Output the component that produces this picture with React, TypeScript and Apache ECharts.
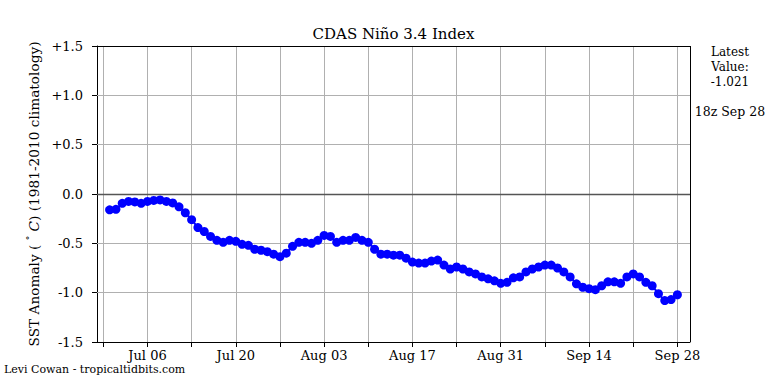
import React, { useEffect, useRef } from "react";
import * as echarts from "echarts";

// Day offsets are counted from Jun 29 (day 0)
const startLabel = "Jun 29";
const values: number[] = [
  -0.16, -0.155, -0.095, -0.075, -0.08, -0.095, -0.075, -0.065, -0.06, -0.075,
  -0.09, -0.13, -0.19, -0.26, -0.34, -0.38, -0.43, -0.47, -0.49, -0.47,
  -0.48, -0.51, -0.52, -0.56, -0.57, -0.585, -0.61, -0.635, -0.6, -0.53,
  -0.49, -0.49, -0.5, -0.47, -0.42, -0.43, -0.49, -0.47, -0.47, -0.44,
  -0.47, -0.49, -0.56, -0.61, -0.61, -0.62, -0.62, -0.65, -0.69, -0.7,
  -0.7, -0.68, -0.67, -0.72, -0.76, -0.74, -0.76, -0.79, -0.81, -0.84,
  -0.86, -0.88, -0.905, -0.895, -0.85, -0.84, -0.79, -0.76, -0.74, -0.72,
  -0.72, -0.75, -0.79, -0.84, -0.91, -0.945, -0.96, -0.97, -0.93, -0.89,
  -0.89, -0.905, -0.84, -0.81, -0.84, -0.895, -0.93, -1.01, -1.08, -1.07,
  -1.021,
];
const firstDay = 1; // Jun 30
const tickDays: number[] = [0, 7, 14, 21, 28, 35, 42, 49, 56, 63, 70, 77, 84, 91];
const labelDays: number[] = [7, 21, 35, 49, 63, 77, 91];
const xTickLabels: string[] = ["Jul 06", "Jul 20", "Aug 03", "Aug 17", "Aug 31", "Sep 14", "Sep 28"];
const yGridValues: number[] = [-1.0, -0.5, 0.5, 1.0];
const titleText = "CDAS Niño 3.4 Index";
const latestText = ["Latest", "Value:", "-1.021"];
const timeText = "18z Sep 28";
const creditText = "Levi Cowan - tropicaltidbits.com";

const FONT = "DejaVu Serif";
const X_MIN = -1;
const X_MAX = 93;
const Y_MIN = -1.5;
const Y_MAX = 1.5;

export default function App() {
  const ref = useRef<HTMLDivElement>(null);
  useEffect(() => {
    if (!ref.current) return;
    const chart = echarts.init(ref.current, undefined, { renderer: "svg" });
    const data = values.map((v, i) => [firstDay + i, v]);
    const gridX = tickDays.map((d) => [{ coord: [d, Y_MIN] }, { coord: [d, Y_MAX] }]);
    const gridY = yGridValues.map((v) => [{ coord: [X_MIN, v] }, { coord: [X_MAX, v] }]);
    chart.setOption({
      animation: false,
      grid: { left: 97, right: 78, top: 46, bottom: 42 },
      xAxis: {
        type: "value",
        min: X_MIN,
        max: X_MAX,
        axisLine: { show: true, onZero: false, lineStyle: { color: "#000", width: 1 } },
        axisTick: {
          show: true,
          length: 5,
          inside: false,
          customValues: tickDays,
          lineStyle: { color: "#000", width: 1 },
        },
        axisLabel: {
          customValues: labelDays,
          margin: 7,
          fontFamily: FONT,
          fontSize: 13,
          color: "#000",
          formatter: (v: number) => {
            const idx = labelDays.indexOf(Math.round(v));
            return idx >= 0 ? xTickLabels[idx] : "";
          },
        },
        splitLine: { show: false },
      },
      yAxis: {
        type: "value",
        min: Y_MIN,
        max: Y_MAX,
        interval: 0.5,
        name: "SST Anomaly ( {sup|°} {it|C}) (1981-2010 climatology)",
        nameLocation: "middle",
        nameGap: 54,
        nameRotate: 90,
        nameTextStyle: {
          fontFamily: FONT,
          fontSize: 13.7,
          color: "#000",
          rich: {
            sup: { fontFamily: FONT, fontSize: 9, color: "#000", padding: [0, 0, 7, 0] },
            it: { fontFamily: FONT, fontSize: 13.7, fontStyle: "italic", color: "#000" },
          },
        },
        axisLine: { show: true, onZero: false, lineStyle: { color: "#000", width: 1 } },
        axisTick: { show: true, length: 5, inside: false, lineStyle: { color: "#000" } },
        axisLabel: {
          margin: 14,
          fontFamily: FONT,
          fontSize: 13,
          color: "#000",
          formatter: (v: number) => (v > 0 ? "+" + v.toFixed(1) : v.toFixed(1)),
        },
        splitLine: { show: true, lineStyle: { color: "#b0b0b0", width: 1 } },
      },
      series: [
        {
          type: "line",
          data,
          symbol: "circle",
          symbolSize: 9,
          showSymbol: true,
          itemStyle: { color: "#0000ff" },
          lineStyle: { color: "#0000ff", width: 2 },
          z: 5,
        },
        {
          type: "line",
          data: [],
          z: 3,
          markLine: {
            silent: true,
            symbol: "none",
            label: { show: false },
            lineStyle: { color: "#b0b0b0", width: 1, type: "solid" },
            data: [...gridX, ...gridY],
          },
        },
        {
          type: "line",
          data: [],
          z: 4,
          markLine: {
            silent: true,
            symbol: "none",
            label: { show: false },
            lineStyle: { color: "#555555", width: 1.3, type: "solid" },
            data: [[{ coord: [X_MIN, 0] }, { coord: [X_MAX, 0] }]],
          },
        },
        {
          type: "line",
          data: [],
          z: 6,
          clip: false,
          markLine: {
            silent: true,
            symbol: "none",
            label: { show: false },
            lineStyle: { color: "#000000", width: 1, type: "solid" },
            data: [
              [{ coord: [X_MIN, Y_MAX] }, { coord: [X_MAX, Y_MAX] }],
              [{ coord: [X_MAX, Y_MIN] }, { coord: [X_MAX, Y_MAX] }],
            ],
          },
        },
      ],
      graphic: [
        {
          type: "text",
          x: 393.5,
          y: 34,
          style: {
            text: titleText,
            font: `15px "${FONT}"`,
            fill: "#000",
            textAlign: "center",
            textVerticalAlign: "middle",
          },
        },
        ...latestText.map((t, i) => ({
          type: "text",
          x: 730,
          y: 52 + i * 15,
          style: {
            text: t,
            font: `12px "${FONT}"`,
            fill: "#000",
            textAlign: "center",
            textVerticalAlign: "middle",
          },
        })),
        {
          type: "text",
          x: 730,
          y: 111,
          style: {
            text: timeText,
            font: `12.5px "${FONT}"`,
            fill: "#000",
            textAlign: "center",
            textVerticalAlign: "middle",
          },
        },
        {
          type: "text",
          x: 4,
          y: 369,
          style: {
            text: creditText,
            font: `11px "${FONT}"`,
            fill: "#000",
            textAlign: "left",
            textVerticalAlign: "middle",
          },
        },
      ],
    });
    return () => chart.dispose();
  }, []);
  return (
    <div
      ref={ref}
      data-start={startLabel}
      style={{ position: "fixed", left: 0, top: 0, width: 768, height: 384, background: "#fff" }}
    />
  );
}
